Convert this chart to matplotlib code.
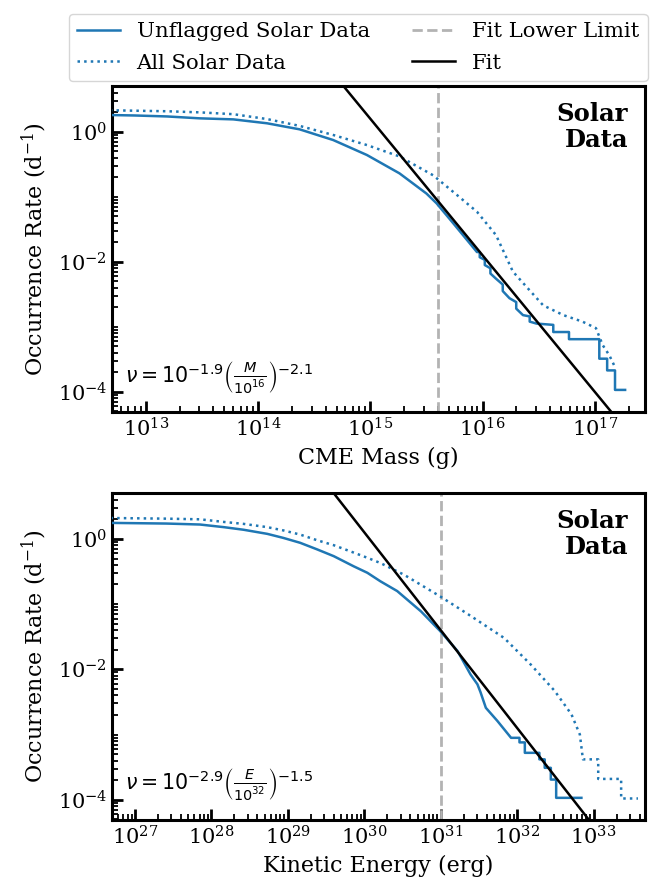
import numpy as np
import matplotlib
matplotlib.use("Agg")
import matplotlib.pyplot as plt
from matplotlib.ticker import LogLocator, NullFormatter

plt.rcParams['font.family'] = ['DejaVu Serif']
plt.rcParams['mathtext.fontset'] = 'dejavuserif'

# ---------------- data (log10 values) ----------------
# Top panel: CME mass (g) vs occurrence rate (1/day)
mass_unflag_log = [12.68, 12.90, 13.19, 13.48, 13.78, 14.08, 14.37, 14.67, 14.97, 15.26,
                   15.50, 15.59, 15.74, 15.95, 15.975, 15.975, 16.02, 16.02, 16.07, 16.07,
                   16.12, 16.18, 16.18, 16.24, 16.30, 16.30, 16.36, 16.42, 16.42, 16.48,
                   16.63, 16.63, 16.77, 16.77, 17.04, 17.04, 17.11, 17.11, 17.18, 17.18,
                   17.27]
rate_unflag_log = [0.257, 0.25, 0.235, 0.206, 0.19, 0.13, 0.037, -0.128, -0.358, -0.64,
                   -0.95, -1.10, -1.41, -1.85, -1.85, -1.93, -1.97, -2.05, -2.10, -2.18,
                   -2.26, -2.35, -2.45, -2.56, -2.62, -2.72, -2.82, -2.84, -2.92, -2.95,
                   -2.97, -3.08, -3.08, -3.19, -3.19, -3.49, -3.49, -3.67, -3.67, -3.97,
                   -3.97]
mass_all_log = [12.68, 13.19, 13.48, 13.78, 14.08, 14.37, 14.67, 14.97, 15.26, 15.56,
                15.77, 15.95, 16.12, 16.27, 16.42, 16.54, 16.72, 16.89, 17.01, 17.07,
                17.13, 17.18]
rate_all_log = [0.33, 0.315, 0.298, 0.27, 0.195, 0.09, -0.05, -0.205, -0.38, -0.67,
                -0.97, -1.23, -1.59, -2.15, -2.44, -2.67, -2.82, -2.92, -3.02, -3.28,
                -3.44, -3.62]

# Bottom panel: kinetic energy (erg) vs occurrence rate (1/day)
energy_unflag_log = [26.68, 27.41, 27.85, 28.16, 28.42, 28.73, 28.94, 29.16, 29.38, 29.60,
                     29.86, 30.04, 30.21, 30.43, 30.74, 30.99, 31.22, 31.39, 31.48, 31.52,
                     31.59, 31.74, 31.92, 32.03, 32.03, 32.10, 32.10, 32.29, 32.29, 32.36,
                     32.36, 32.44, 32.44, 32.51, 32.51, 32.84]
rate_e_unflag_log = [0.245, 0.235, 0.22, 0.18, 0.14, 0.077, 0.015, -0.06, -0.16, -0.265,
                     -0.42, -0.52, -0.65, -0.80, -1.11, -1.41, -1.72, -2.08, -2.23, -2.35,
                     -2.59, -2.79, -3.05, -3.05, -3.12, -3.12, -3.28, -3.28, -3.38, -3.38,
                     -3.51, -3.51, -3.69, -3.69, -3.97, -3.97]
energy_all_log = [26.68, 27.41, 27.85, 28.16, 28.42, 28.73, 28.94, 29.16, 29.38, 29.60,
                  29.86, 30.04, 30.21, 30.52, 30.99, 31.39, 31.83, 32.18, 32.49, 32.71,
                  32.82, 32.86, 33.06, 33.06, 33.36, 33.36, 33.58]
rate_e_all_log = [0.32, 0.31, 0.30, 0.26, 0.23, 0.18, 0.13, 0.066, -0.02, -0.097,
                  -0.21, -0.29, -0.37, -0.55, -0.88, -1.18, -1.52, -1.93, -2.33, -2.69,
                  -3.00, -3.38, -3.38, -3.68, -3.68, -3.98, -3.98]

# Power-law fits: nu = 10^a (X / X0)^b
fit_mass = dict(a=-1.9, b=-2.1, x0=1e16, lower=4e15)
fit_energy = dict(a=-2.9, b=-1.5, x0=1e32, lower=1e31)

xlim_mass = (5.0e12, 2.8e17)
xlim_energy = (5.0e26, 4.7e33)
xmajor_mass = [1e13, 1e14, 1e15, 1e16, 1e17]
xmajor_energy = [1e27, 1e28, 1e29, 1e30, 1e31, 1e32, 1e33]
ylim_rate = (4.9e-5, 5.05)
ymajor = [1e-4, 1e-2, 1e0]

labels = ["Unflagged Solar Data", "All Solar Data", "Fit Lower Limit", "Fit"]

# ---------------- plotting ----------------
blue = '#1f77b4'
W, H = 667, 888
fig = plt.figure(figsize=(W / 100, H / 100), dpi=100)

def axes_px(x0, y0, x1, y1):
    return fig.add_axes([x0 / W, 1 - y1 / H, (x1 - x0) / W, (y1 - y0) / H])

ax1 = axes_px(112, 86, 645, 412)
ax2 = axes_px(112, 493, 645, 820)

def panel(ax, xu, yu, xa, ya, fit, xlim, xmajor, xlabel, eq):
    l1, = ax.plot(10 ** np.array(xu), 10 ** np.array(yu), color=blue, lw=1.8, zorder=3)
    l2, = ax.plot(10 ** np.array(xa), 10 ** np.array(ya), color=blue, lw=1.8, ls=':', zorder=3)
    l3 = ax.axvline(fit['lower'], color='#b3b3b3', lw=2.0, ls='--', zorder=2)
    xf = np.logspace(np.log10(xlim[0]), np.log10(xlim[1]), 200)
    l4, = ax.plot(xf, 10 ** fit['a'] * (xf / fit['x0']) ** fit['b'], color='black', lw=1.8, zorder=4)
    ax.set_xscale('log')
    ax.set_yscale('log')
    ax.set_xticks(xmajor)
    ax.set_yticks(ymajor)
    ax.set_xlim(*xlim)
    ax.set_ylim(*ylim_rate)
    ax.xaxis.set_minor_locator(LogLocator(base=10, subs=np.arange(1, 10), numticks=100))
    ax.yaxis.set_minor_locator(LogLocator(base=10, subs=np.arange(1, 10), numticks=100))
    ax.yaxis.set_minor_formatter(NullFormatter())
    ax.xaxis.set_minor_formatter(NullFormatter())
    ax.set_xlabel(xlabel, fontsize=16, labelpad=5)
    ax.set_ylabel(r'Occurrence Rate (d$^{-1}$)', fontsize=16, labelpad=6)
    ax.tick_params(which='both', direction='in', top=False, right=False, labelsize=15)
    ax.tick_params(which='major', length=8, width=2)
    ax.tick_params(which='minor', length=4, width=1.3)
    for s in ax.spines.values():
        s.set_linewidth(2.2)
    ax.text(0.968, 0.952, 'Solar\nData', transform=ax.transAxes, ha='right', va='top',
            fontsize=17.5, fontweight='bold', linespacing=1.1)
    ax.text(0.024, 0.092, eq, transform=ax.transAxes, ha='left', va='baseline',
            fontsize=14.8, math_fontfamily='dejavusans')
    return [l1, l2, l3, l4]

handles = panel(ax1, mass_unflag_log, rate_unflag_log, mass_all_log, rate_all_log,
                fit_mass, xlim_mass, xmajor_mass, 'CME Mass (g)',
                r'$\nu = 10^{-1.9}\left(\frac{M}{10^{16}}\right)^{-2.1}$')
panel(ax2, energy_unflag_log, rate_e_unflag_log, energy_all_log, rate_e_all_log,
      fit_energy, xlim_energy, xmajor_energy, 'Kinetic Energy (erg)',
      r'$\nu = 10^{-2.9}\left(\frac{E}{10^{32}}\right)^{-1.5}$')

fig.legend(handles, labels, ncol=2, loc='upper center', bbox_to_anchor=(358 / W, 1 - 3 / H),
           fontsize=15.3, frameon=True, columnspacing=2.0, handlelength=2.0,
           labelspacing=0.6)

fig.savefig('out.png', dpi=100)
